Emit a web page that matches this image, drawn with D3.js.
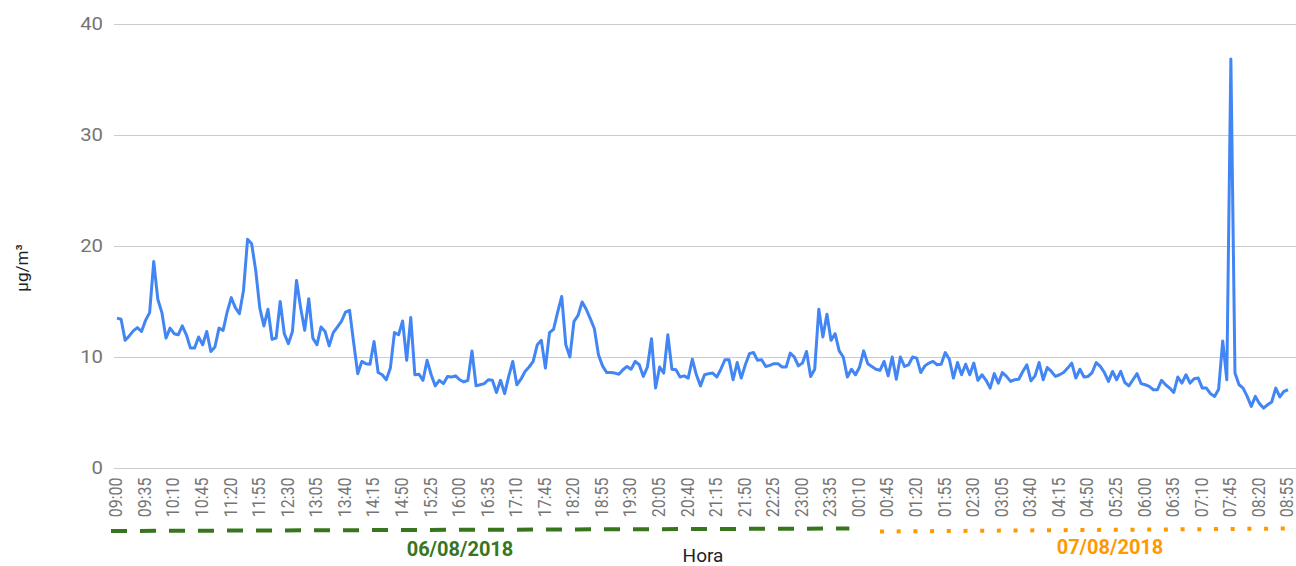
<!DOCTYPE html>
<html>
<head>
<meta charset="utf-8">
<script src="https://cdn.jsdelivr.net/npm/d3@7"></script>
<style>
  html, body { margin: 0; padding: 0; background: #fff; }
  svg { display: block; font-family: Roboto, "Liberation Sans", Arial, sans-serif; }
</style>
</head>
<body>
<div id="chart"></div>
<script>
// PM values (µg/m³), one every 5 minutes from 06/08/2018 09:00 to 07/08/2018 08:55
const pm = [
  13.5, 13.4, 11.5, 11.9, 12.35, 12.65, 12.3, 13.3, 14.0, 18.6,
  15.2, 14.0, 11.7, 12.6, 12.1, 12.0, 12.8, 12.0, 10.8, 10.8,
  11.8, 11.1, 12.3, 10.5, 10.9, 12.6, 12.4, 14.05, 15.35, 14.45,
  13.9, 16.0, 20.6, 20.2, 17.8, 14.4, 12.8, 14.3, 11.6, 11.7,
  15.0, 12.1, 11.2, 12.3, 16.9, 14.45, 12.4, 15.25, 11.7, 11.1,
  12.7, 12.3, 11.0, 12.2, 12.7, 13.2, 14.05, 14.2, 11.3, 8.5,
  9.6, 9.4, 9.35, 11.4, 8.6, 8.4, 7.95, 9.0, 12.2, 12.0,
  13.25, 9.7, 13.55, 8.4, 8.45, 7.9, 9.7, 8.4, 7.4, 7.9,
  7.6, 8.25, 8.2, 8.3, 7.95, 7.75, 7.9, 10.55, 7.4, 7.5,
  7.6, 7.95, 7.9, 6.8, 7.9, 6.7, 8.25, 9.6, 7.5, 8.0,
  8.7, 9.1, 9.6, 11.1, 11.5, 9.0, 12.2, 12.5, 14.05, 15.45,
  11.1, 10.0, 13.2, 13.75, 14.95, 14.3, 13.45, 12.55, 10.2, 9.2,
  8.6, 8.6, 8.55, 8.45, 8.85, 9.15, 8.9, 9.6, 9.3, 8.25,
  9.1, 11.65, 7.2, 9.1, 8.55, 12.0, 8.9, 8.85, 8.2, 8.3,
  8.1, 9.8, 8.4, 7.4, 8.4, 8.5, 8.55, 8.2, 8.9, 9.75,
  9.75, 7.95, 9.5, 8.1, 9.3, 10.3, 10.4, 9.7, 9.75, 9.15,
  9.25, 9.4, 9.4, 9.1, 9.1, 10.35, 10.0, 9.2, 9.45, 10.5,
  8.25, 8.9, 14.3, 11.8, 13.85, 11.5, 12.1, 10.55, 10.0, 8.2,
  8.9, 8.4, 9.1, 10.55, 9.4, 9.15, 8.9, 8.8, 9.6, 8.3,
  10.0, 8.0, 10.0, 9.15, 9.3, 10.0, 9.9, 8.6, 9.2, 9.45,
  9.6, 9.3, 9.35, 10.4, 9.8, 8.1, 9.5, 8.4, 9.35, 8.4,
  9.45, 7.9, 8.4, 7.9, 7.2, 8.5, 7.65, 8.6, 8.25, 7.8,
  7.95, 8.0, 8.7, 9.3, 7.85, 8.3, 9.5, 7.95, 9.05, 8.7,
  8.25, 8.4, 8.6, 9.0, 9.45, 8.1, 8.9, 8.2, 8.25, 8.6,
  9.5, 9.15, 8.6, 7.8, 8.7, 7.95, 8.7, 7.7, 7.4, 7.95,
  8.5, 7.6, 7.5, 7.35, 7.05, 7.05, 7.9, 7.5, 7.2, 6.8,
  8.2, 7.65, 8.4, 7.65, 8.05, 8.1, 7.2, 7.2, 6.7, 6.45,
  7.1, 11.45, 7.95, 36.85, 8.55, 7.5, 7.2, 6.45, 5.55, 6.45,
  5.8, 5.4, 5.7, 5.95, 7.2, 6.4, 6.9, 7.05
];

// Category labels (HH:MM) matching each value
const times = [];
for (let i = 0; i < pm.length; i++) {
  const m = (9 * 60 + i * 5) % (24 * 60);
  times.push(String(Math.floor(m / 60)).padStart(2, "0") + ":" + String(m % 60).padStart(2, "0"));
}

// Tick labels shown on the x axis
const xTicks = [
  "09:00", "09:35", "10:10", "10:45", "11:20", "11:55", "12:30", "13:05", "13:40", "14:15",
  "14:50", "15:25", "16:00", "16:35", "17:10", "17:45", "18:20", "18:55", "19:30", "20:05",
  "20:40", "21:15", "21:50", "22:25", "23:00", "23:35", "00:10", "00:45", "01:20", "01:55",
  "02:30", "03:05", "03:40", "04:15", "04:50", "05:25", "06:00", "06:35", "07:10", "07:45",
  "08:20", "08:55"
];
const yTicks = [0, 10, 20, 30, 40];

// Day brackets under the axis
const days = ["06/08/2018", "07/08/2018"];
const dayStart = ["09:00", "00:35"];
const dayEnd = ["23:55", "08:55"];
const dayColors = ["#38761d", "#ff9900"];

const width = 1296;
const height = 566;

const svg = d3.select("#chart")
  .append("svg")
  .attr("width", width)
  .attr("height", height);

// Scales
const x = d3.scalePoint()
  .domain(times)
  .range([117, 1288]);

const y = d3.scaleLinear()
  .domain([0, 40])
  .range([468, 24]);

// Horizontal gridlines
svg.append("g")
  .selectAll("line")
  .data(yTicks)
  .enter().append("line")
  .attr("x1", 114)
  .attr("x2", width)
  .attr("y1", d => y(d) + 0.5)
  .attr("y2", d => y(d) + 0.5)
  .attr("stroke", "#cccccc")
  .attr("stroke-width", 1);

// Y axis labels
svg.append("g")
  .selectAll("text")
  .data(yTicks)
  .enter().append("text")
  .attr("transform", d => `translate(103,${y(d)}) scale(1.13,1)`)
  .attr("text-anchor", "end")
  .attr("dy", "0.36em")
  .attr("font-size", 18)
  .attr("fill", "#757575")
  .text(d => d);

// Y axis title
svg.append("text")
  .attr("transform", "translate(28,268) rotate(-90)")
  .attr("text-anchor", "middle")
  .attr("font-size", 17)
  .attr("fill", "#222")
  .text("µg/m³");

// X axis labels, rotated
svg.append("g")
  .selectAll("text")
  .data(xTicks)
  .enter().append("text")
  .attr("transform", d => `translate(${x(d) - 1},477.5) rotate(-90) scale(1,1.1)`)
  .attr("text-anchor", "end")
  .attr("dy", "0.36em")
  .attr("font-size", 16)
  .attr("fill", "#757575")
  .text(d => d);

// The series line
const line = d3.line()
  .x((d, i) => x(times[i]))
  .y(d => y(d));

svg.append("path")
  .datum(pm)
  .attr("d", line)
  .attr("fill", "none")
  .attr("stroke", "#4285f4")
  .attr("stroke-width", 3)
  .attr("stroke-linejoin", "round");

// Day markers: dashed green for the first day, dotted orange for the second
svg.append("line")
  .attr("x1", x(dayStart[0]) - 6)
  .attr("x2", x(dayEnd[0]) + 2)
  .attr("y1", 531)
  .attr("y2", 528.5)
  .attr("stroke", dayColors[0])
  .attr("stroke-width", 4)
  .attr("stroke-dasharray", "16,13");

svg.append("line")
  .attr("x1", x(dayStart[1]))
  .attr("x2", x(dayEnd[1]))
  .attr("y1", 531.5)
  .attr("y2", 528.5)
  .attr("stroke", dayColors[1])
  .attr("stroke-width", 4)
  .attr("stroke-dasharray", "4,12.7");

svg.append("g")
  .selectAll("text")
  .data(days)
  .enter().append("text")
  .attr("x", (d, i) => i === 0 ? 460 : 1110)
  .attr("y", (d, i) => i === 0 ? 556 : 554)
  .attr("text-anchor", "middle")
  .attr("font-size", 20)
  .attr("font-weight", "bold")
  .attr("fill", (d, i) => dayColors[i])
  .text(d => d);

// X axis title
svg.append("text")
  .attr("x", 703)
  .attr("y", 562)
  .attr("text-anchor", "middle")
  .attr("font-size", 19)
  .attr("fill", "#222")
  .text("Hora");
</script>
</body>
</html>
